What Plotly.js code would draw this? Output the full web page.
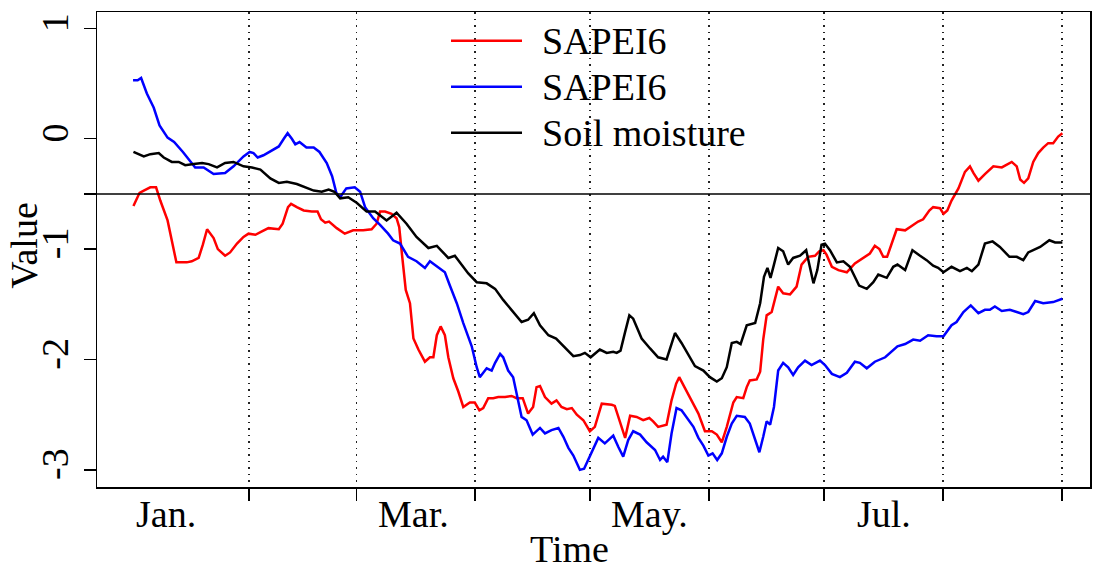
<!DOCTYPE html>
<html>
<head>
<meta charset="utf-8">
<script src="https://cdn.plot.ly/plotly-3.0.1.min.js"></script>
<style>html,body{margin:0;padding:0;background:#fff;}#chart{width:1095px;height:569px;}</style>
</head>
<body>
<div id="chart"></div>
<script>
// Day of year (0 = 1 Jan) and values
const seriesNames = ["SAPEI6", "SAPEI6", "Soil moisture"];

const redDay = [0.9,2.5,3.6,5.3,6.8,7.9,9.8,10.9,12.1,13.5,14.8,16.1,17.9,19.0,20.1,21.8,22.9,24.8,26.1,27.9,29.6,30.9,32.7,34.4,36.1,38.8,39.8,41.2,42.0,43.5,45.3,47.4,48.9,49.8,50.9,51.9,53.9,56.0,58.2,60.8,63.0,64.3,65.2,66.5,68.2,69.5,70.2,70.8,71.9,73.0,73.9,75.2,76.9,78.2,79.1,80.0,81.0,82.1,83.0,84.3,85.6,86.9,88.6,89.9,91.1,92.1,93.4,94.7,96.0,97.8,99.5,100.8,102.4,103.8,105.1,106.0,106.9,108.2,109.9,111.2,112.5,113.9,115.2,116.5,118.2,119.9,121.2,123.0,125.6,126.4,127.7,129.1,130.4,132.1,133.8,135.4,136.4,137.7,139.9,141.2,142.4,143.2,144.7,146.4,148.2,149.9,151.7,153.0,154.3,155.6,157.3,158.2,159.9,160.8,161.6,163.4,164.3,165.1,166.0,167.3,168.2,169.0,170.3,172.1,173.8,175.1,176.8,178.6,179.7,180.8,181.6,183.0,184.7,186.9,189.0,191.2,192.9,194.2,195.4,196.4,197.4,199.9,202.1,203.8,205.5,206.8,208.4,209.4,211.2,212.1,213.1,214.2,216.0,217.7,219.0,219.9,221.2,222.9,225.1,227.3,229.9,231.2,232.1,233.1,234.2,235.5,236.8,238.1,239.4,240.7,242.0,243.1];
const redVal = [-0.61,-0.49,-0.47,-0.44,-0.44,-0.56,-0.74,-0.92,-1.12,-1.12,-1.12,-1.11,-1.08,-0.96,-0.82,-0.90,-1.00,-1.06,-1.03,-0.95,-0.89,-0.86,-0.87,-0.84,-0.81,-0.82,-0.77,-0.62,-0.59,-0.62,-0.65,-0.66,-0.66,-0.73,-0.76,-0.75,-0.81,-0.86,-0.83,-0.83,-0.82,-0.77,-0.66,-0.66,-0.68,-0.72,-0.80,-1.01,-1.37,-1.49,-1.81,-1.91,-2.02,-1.98,-1.98,-1.78,-1.70,-1.78,-1.98,-2.17,-2.29,-2.43,-2.39,-2.39,-2.46,-2.44,-2.35,-2.35,-2.34,-2.34,-2.33,-2.35,-2.35,-2.49,-2.43,-2.25,-2.24,-2.34,-2.40,-2.37,-2.43,-2.45,-2.44,-2.50,-2.55,-2.65,-2.61,-2.40,-2.41,-2.42,-2.55,-2.71,-2.51,-2.52,-2.55,-2.53,-2.56,-2.61,-2.59,-2.37,-2.22,-2.16,-2.26,-2.37,-2.49,-2.65,-2.65,-2.68,-2.75,-2.61,-2.39,-2.34,-2.35,-2.25,-2.19,-2.18,-2.11,-1.82,-1.60,-1.57,-1.46,-1.34,-1.40,-1.41,-1.34,-1.14,-1.07,-1.06,-1.02,-1.01,-1.05,-1.16,-1.19,-1.21,-1.13,-1.08,-1.04,-0.97,-1.00,-1.07,-1.07,-0.82,-0.83,-0.79,-0.75,-0.73,-0.65,-0.62,-0.63,-0.68,-0.65,-0.56,-0.45,-0.30,-0.25,-0.31,-0.38,-0.32,-0.25,-0.26,-0.21,-0.25,-0.37,-0.40,-0.36,-0.21,-0.13,-0.08,-0.04,-0.04,0.02,0.05];

const blueDay = [0.8,2.0,2.9,4.4,6.2,7.7,9.8,11.5,13.8,15.3,17.0,19.2,21.8,24.8,27.0,29.6,31.2,32.2,33.3,34.8,37.0,38.8,40.1,41.1,42.2,43.1,44.2,46.0,47.9,49.4,51.3,52.7,53.8,54.8,56.4,58.6,60.0,61.3,63.4,65.2,67.3,68.6,70.4,72.5,74.7,76.9,78.2,80.0,82.1,83.4,85.2,86.9,89.1,90.4,91.2,93.0,94.3,95.2,96.5,97.3,98.6,99.9,101.2,102.1,103.4,105.0,106.9,108.2,109.9,111.7,113.0,114.3,115.6,117.3,118.4,119.9,122.1,123.8,126.0,127.3,128.6,129.9,131.2,133.0,134.7,136.9,138.2,139.0,140.1,141.2,142.5,143.8,145.1,146.9,148.2,149.5,150.8,151.9,153.1,154.3,155.6,156.9,158.2,160.3,161.6,162.5,164.1,165.1,166.0,166.9,167.9,169.0,170.3,171.6,172.9,174.2,176.0,177.7,179.9,181.2,183.0,185.1,186.9,189.0,190.3,192.1,194.2,196.9,200.1,202.1,204.2,206.0,208.1,210.3,212.1,214.2,215.5,217.3,219.2,221.2,222.9,224.2,225.5,227.3,229.4,231.2,232.9,234.2,236.0,238.1,240.7,243.1];
const blueVal = [0.53,0.53,0.55,0.41,0.28,0.12,0.01,-0.03,-0.12,-0.19,-0.26,-0.26,-0.32,-0.31,-0.25,-0.16,-0.12,-0.13,-0.17,-0.15,-0.11,-0.07,0.00,0.05,0.00,-0.05,-0.03,-0.08,-0.08,-0.12,-0.22,-0.34,-0.49,-0.53,-0.45,-0.44,-0.48,-0.62,-0.72,-0.78,-0.86,-0.92,-0.95,-1.07,-1.11,-1.17,-1.11,-1.16,-1.21,-1.33,-1.49,-1.67,-1.88,-2.07,-2.16,-2.08,-2.10,-2.03,-1.95,-1.98,-2.10,-2.16,-2.37,-2.52,-2.55,-2.68,-2.62,-2.67,-2.64,-2.62,-2.70,-2.80,-2.87,-3.00,-2.99,-2.88,-2.71,-2.76,-2.69,-2.79,-2.88,-2.73,-2.65,-2.68,-2.75,-2.82,-2.91,-2.88,-2.93,-2.67,-2.44,-2.46,-2.52,-2.61,-2.71,-2.78,-2.87,-2.85,-2.91,-2.85,-2.70,-2.58,-2.51,-2.52,-2.58,-2.68,-2.84,-2.70,-2.56,-2.59,-2.43,-2.10,-2.03,-2.07,-2.14,-2.07,-2.01,-2.05,-2.01,-2.05,-2.13,-2.16,-2.12,-2.02,-2.03,-2.08,-2.02,-1.98,-1.88,-1.86,-1.82,-1.83,-1.78,-1.79,-1.79,-1.69,-1.66,-1.57,-1.51,-1.58,-1.55,-1.55,-1.52,-1.56,-1.55,-1.57,-1.59,-1.57,-1.47,-1.49,-1.48,-1.45];

const soilDay = [0.9,3.6,5.3,7.5,8.8,10.9,12.7,14.4,16.6,18.8,20.5,22.7,24.8,27.0,29.6,31.8,34.0,36.6,38.8,40.9,43.5,45.7,47.9,50.0,51.8,53.3,54.8,56.9,59.1,61.7,63.9,66.9,69.5,72.1,74.7,77.8,80.0,83.0,84.7,88.2,90.4,93.0,95.2,97.3,99.5,102.1,103.8,105.3,106.9,109.1,111.1,113.0,115.6,117.3,118.6,120.1,122.5,124.3,126.0,126.9,127.9,129.1,130.2,131.2,133.4,135.6,137.7,139.9,140.8,142.1,143.8,145.6,147.3,149.5,151.2,153.0,154.3,155.6,156.9,158.2,159.2,160.8,163.0,164.3,165.3,166.2,167.0,167.9,169.0,170.3,171.6,172.9,174.7,176.3,177.1,178.2,179.2,180.3,181.2,182.5,184.3,186.0,187.7,190.1,192.1,193.8,195.1,197.3,199.0,200.1,202.1,204.0,206.0,207.7,209.4,210.7,212.1,214.2,216.4,218.2,219.5,221.2,222.9,224.9,226.8,229.3,231.2,232.9,234.2,237.3,239.7,241.2,243.1];
const soilVal = [-0.12,-0.16,-0.14,-0.13,-0.17,-0.21,-0.21,-0.24,-0.23,-0.22,-0.23,-0.26,-0.22,-0.21,-0.25,-0.26,-0.28,-0.36,-0.40,-0.39,-0.41,-0.44,-0.47,-0.48,-0.46,-0.48,-0.54,-0.53,-0.58,-0.66,-0.66,-0.74,-0.67,-0.77,-0.89,-0.99,-0.97,-1.08,-1.06,-1.22,-1.30,-1.31,-1.36,-1.46,-1.55,-1.66,-1.64,-1.58,-1.69,-1.78,-1.81,-1.88,-1.97,-1.96,-1.94,-1.98,-1.91,-1.94,-1.93,-1.94,-1.92,-1.75,-1.60,-1.63,-1.81,-1.90,-1.98,-2.00,-1.91,-1.76,-1.85,-1.96,-2.06,-2.10,-2.16,-2.20,-2.17,-2.07,-1.85,-1.84,-1.86,-1.69,-1.67,-1.49,-1.25,-1.17,-1.26,-1.14,-0.99,-1.02,-1.14,-1.08,-1.06,-1.01,-1.13,-1.31,-1.19,-0.96,-0.95,-1.01,-1.12,-1.11,-1.16,-1.33,-1.36,-1.30,-1.23,-1.26,-1.16,-1.14,-1.19,-1.01,-1.06,-1.10,-1.15,-1.17,-1.21,-1.16,-1.20,-1.17,-1.20,-1.14,-0.95,-0.93,-0.98,-1.07,-1.07,-1.10,-1.03,-0.98,-0.92,-0.94,-0.94];

// Axis ticks: first day of Feb..Sep; month labels near mid-month
const monthStarts = [31, 59, 90, 120, 151, 181, 212, 243];
const monthLabelDays = [9.5, 74, 135.5, 196.5];
const monthLabels = ["Jan.", "Mar.", "May.", "Jul."];
const yTickVals = [1, 0, -0.5, -1, -2, -3];
const yTickText = ["1", "0", "", "-1", "-2", "-3"];
const threshold = -0.5;

const colors = ["#FF0000", "#0000FF", "#000000"];
const FONT = "Liberation Serif, Times New Roman, serif";
const FS = 38;

const traces = [
  {x: redDay, y: redVal, name: seriesNames[0]},
  {x: blueDay, y: blueVal, name: seriesNames[1]},
  {x: soilDay, y: soilVal, name: seriesNames[2]}
].map((t, i) => Object.assign(t, {type: "scatter", mode: "lines", line: {color: colors[i], width: 2.5}, showlegend: false, hoverinfo: "skip"}));

const annotations = monthLabels.map((m, i) => ({
  text: m, x: monthLabelDays[i], xref: "x", y: -0.057, yref: "paper",
  xanchor: "center", yanchor: "middle", showarrow: false, font: {family: FONT, size: FS, color: "#000"}
}));
annotations.push({text: "Time", x: 0.476, xref: "paper", y: -0.131, yref: "paper", xanchor: "center", yanchor: "middle", showarrow: false, font: {family: FONT, size: FS, color: "#000"}});
annotations.push({text: "Value", x: -0.073, xref: "paper", y: 0.509, yref: "paper", textangle: -90, xanchor: "center", yanchor: "middle", showarrow: false, font: {family: FONT, size: FS, color: "#000"}});

// manual legend (long line keys)
const legRowY = [0.9396, 0.8428, 0.746];
const shapes = [{type: "line", xref: "paper", x0: 0, x1: 1, yref: "y", y0: threshold, y1: threshold, line: {color: "#000", width: 1.5}}];
seriesNames.forEach((n, i) => {
  shapes.push({type: "line", xref: "paper", yref: "paper", x0: 0.3565, x1: 0.428, y0: legRowY[i], y1: legRowY[i], line: {color: colors[i], width: 2.5}});
  annotations.push({text: n, x: 0.446, xref: "paper", y: legRowY[i], yref: "paper", xanchor: "left", yanchor: "middle", showarrow: false, font: {family: FONT, size: FS, color: "#000"}});
});

const layout = {
  width: 1095, height: 569,
  margin: {l: 97, r: 5, t: 12, b: 82},
  paper_bgcolor: "#fff", plot_bgcolor: "#fff",
  font: {family: FONT, size: FS, color: "#000"},
  xaxis: {
    range: [-8.6, 250.3], tickvals: monthStarts, ticktext: monthStarts.map(() => ""),
    ticks: "outside", ticklen: 12, tickwidth: 1.5, tickcolor: "#000",
    showgrid: true, gridcolor: "#222", gridwidth: 1.5, griddash: "1.5px,5px",
    showline: true, mirror: true, linecolor: "#000", linewidth: 1.5, zeroline: false
  },
  yaxis: {
    range: [-3.155, 1.148], tickvals: yTickVals, ticktext: yTickText, tickangle: -90,
    ticks: "outside", ticklen: 12, tickwidth: 1.5, tickcolor: "#000",
    tickfont: {family: FONT, size: FS, color: "#000"},
    showgrid: false, showline: true, mirror: true, linecolor: "#000", linewidth: 1.5, zeroline: false
  },
  shapes: shapes,
  annotations: annotations
};

Plotly.newPlot("chart", traces, layout, {displayModeBar: false, staticPlot: true});
</script>
</body>
</html>
